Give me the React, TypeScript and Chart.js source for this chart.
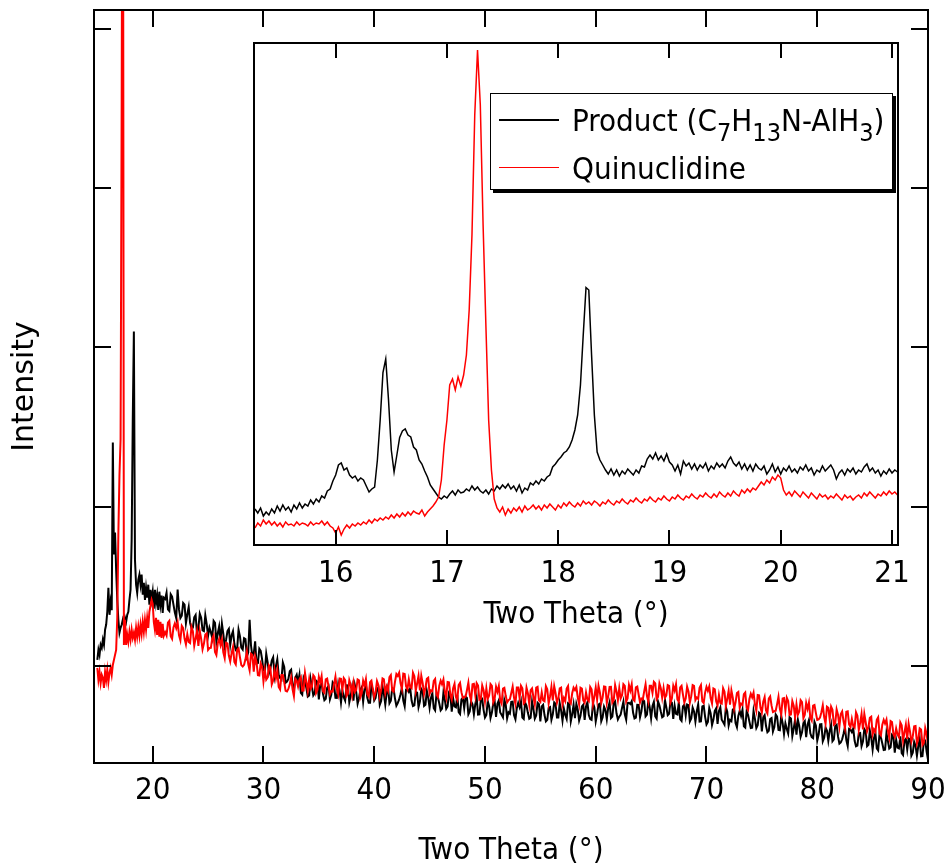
import React, { useEffect, useRef } from 'react';
import { Chart, registerables } from 'chart.js';
Chart.register(...registerables);

const W = 944;
const H = 866;
const FONT = "'DejaVu Sans Condensed', 'Liberation Sans Narrow', 'DejaVu Sans', sans-serif";
const FONT_WIDE = "'DejaVu Sans', Verdana, sans-serif";

// ---- tick labels ----
const MAIN_X_TICKS = [20, 30, 40, 50, 60, 70, 80, 90];
const MAIN_Y_TICKS = [1000, 2000, 3000, 4000, 5000];
const INSET_X_TICKS = [16, 17, 18, 19, 20, 21];

// ---- sampling grids (two theta, degrees) ----
const grid = (start: number, step: number, n: number) =>
  Array.from({ length: n }, (_, i) => +(start + i * step).toFixed(3));
const MAIN_X = [...grid(15.0, 0.1, 61), ...grid(21.25, 0.25, 276)];
const MAIN_X_MID = grid(21.125, 0.25, 276);
const INSET_X = grid(15.275, 0.025, 232);

// ---- main pattern: Product (C7H13N-AlH3) ----
const MAIN_PRODUCT = [
  1038, 1101, 1069, 1132, 1113, 1164, 1132, 1227, 1260, 1340,
  1491, 1321, 1400, 1350, 2403, 1700, 1837, 1604, 1415, 1290,
  1208, 1239, 1258, 1289, 1258, 1302, 1277, 1321, 1340, 1415,
  1478, 1793, 2547, 3101, 1667, 1510, 1459, 1541, 1573, 1510,
  1573, 1447, 1522, 1415, 1491, 1428, 1510, 1384, 1478, 1415,
  1466, 1359, 1478, 1396, 1447, 1352, 1466, 1384, 1441, 1333,
  1428,
  1460, 1345, 1435, 1335, 1480, 1300, 1395, 1268, 1370, 1238, 1305, 1202,
  1328, 1223, 1318, 1189, 1211, 1283, 1151, 1248, 1265, 1122, 1219, 1131,
  1218, 1100, 1228, 1115, 1174, 1058, 1290, 1060, 1154, 1017, 1094, 972,
  1077, 953, 1033, 939, 1041, 924, 1021, 894, 918, 976, 850, 944,
  945, 820, 906, 807, 919, 815, 907, 789, 892, 785, 862, 790,
  897, 800, 887, 770, 804, 878, 771, 865, 879, 762, 851, 775,
  880, 769, 879, 783, 856, 755, 868, 757, 871, 781, 855, 750,
  789, 863, 746, 855, 859, 748, 836, 740, 856, 748, 844, 736,
  828, 720, 803, 720, 833, 731, 830, 713, 745, 817, 698, 800,
  807, 695, 777, 695, 803, 695, 793, 676, 779, 673, 766, 680,
  784, 693, 787, 671, 700, 775, 664, 768, 777, 666, 749, 668,
  776, 669, 768, 651, 756, 651, 736, 661, 771, 676, 766, 656,
  691, 766, 651, 756, 761, 656, 746, 661, 771, 666, 766, 651,
  757, 653, 744, 665, 771, 682, 777, 663, 694, 775, 662, 768,
  779, 670, 756, 677, 788, 683, 784, 670, 774, 669, 753, 677,
  786, 690, 778, 667, 699, 772, 654, 756, 758, 651, 738, 650,
  758, 651, 749, 632, 735, 629, 717, 635, 739, 648, 741, 625,
  653, 732, 615, 718, 725, 612, 693, 610, 717, 609, 706, 588,
  691, 583, 666, 588, 695, 598, 685, 572, 604, 677, 559, 661,
  663, 555, 641, 553, 660, 552, 649, 531, 633, 526, 613, 530,
  632, 539, 630, 512, 539, 616, 497, 599, 607, 495, 577, 495,
  603, 495, 593, 475, 577, 469, 550, 472, 579, 481, 568, 455,
  487, 558, 440, 542, 544, 436, 523, 435, 542, 433, 530, 412,
];

// in-between readings (21.125 ... 89.875)
const MAIN_PRODUCT_MID = [
  1420, 1355, 1450, 1385, 1300, 1355, 1315, 1385, 1325, 1270, 1240, 1320,
  1238, 1303, 1218, 1263, 1240, 1175, 1270, 1205, 1148, 1203, 1163, 1233,
  1192, 1137, 1107, 1187, 1103, 1168, 1083, 1128, 1078, 1013, 1108, 1043,
  968, 1023, 983, 1053, 998, 943, 913, 993, 901, 966, 881, 926,
  896, 831, 926, 861, 814, 869, 829, 899, 879, 824, 794, 874,
  819, 884, 799, 844, 847, 782, 877, 812, 782, 837, 797, 867,
  854, 799, 769, 849, 799, 864, 779, 824, 830, 765, 860, 795,
  767, 822, 782, 852, 837, 782, 752, 832, 776, 841, 756, 801,
  799, 734, 829, 764, 731, 786, 746, 816, 795, 740, 710, 790,
  734, 799, 714, 759, 759, 694, 789, 724, 692, 747, 707, 777,
  762, 707, 677, 757, 709, 774, 689, 734, 740, 675, 770, 705,
  674, 729, 689, 759, 746, 691, 661, 741, 696, 761, 676, 721,
  731, 666, 761, 696, 671, 726, 686, 756, 746, 691, 661, 741,
  698, 763, 678, 723, 737, 672, 767, 702, 681, 736, 696, 766,
  760, 705, 675, 755, 714, 779, 694, 739, 748, 683, 778, 713,
  684, 739, 699, 769, 750, 695, 665, 745, 689, 754, 669, 714,
  715, 650, 745, 680, 648, 703, 663, 733, 717, 662, 632, 712,
  661, 726, 641, 686, 685, 620, 715, 650, 612, 667, 627, 697,
  677, 622, 592, 672, 616, 681, 596, 641, 640, 575, 670, 605,
  568, 623, 583, 653, 631, 576, 546, 626, 569, 634, 549, 594,
  592, 527, 622, 557, 519, 574, 534, 604, 584, 529, 499, 579,
  524, 589, 504, 549, 547, 482, 577, 512, 474, 529, 489, 559,
  537, 482, 452, 532, 474, 539, 454, 499, 497, 432, 527, 462,
];

// ---- main pattern: Quinuclidine ----
const MAIN_QUIN = [
  988, 912, 962, 893, 944, 925, 862, 962, 912, 975,
  899, 956, 988, 944, 1006, 1038, 1069, 1100, 1300, 1837,
  2201, 2422, 4560, 7705, 1132, 1289, 1132, 1195, 1151, 1214,
  1164, 1227, 1176, 1208, 1164, 1239, 1183, 1245, 1189, 1258,
  1201, 1277, 1214, 1289, 1227, 1302, 1239, 1340, 1378, 1415,
  1390, 1277, 1227, 1302, 1195, 1289, 1183, 1277, 1176, 1264,
  1189,
  1191, 1283, 1170, 1267, 1274, 1161, 1238, 1135, 1150, 1246, 1126, 1221,
  1220, 1104, 1197, 1101, 1113, 1191, 1068, 1170, 1167, 1049, 1141, 1028,
  1119, 1009, 1110, 1005, 1007, 1090, 972, 1069, 1060, 941, 1016, 902,
  914, 1002, 884, 976, 971, 852, 942, 843, 855, 928, 810, 907,
  915, 844, 956, 843, 855, 942, 829, 931, 936, 831, 921, 821,
  839, 932, 821, 919, 923, 811, 910, 818, 836, 915, 803, 907,
  917, 807, 907, 802, 905, 808, 921, 829, 845, 942, 838, 949,
  957, 855, 949, 852, 867, 957, 843, 938, 938, 823, 919, 824,
  841, 918, 805, 907, 914, 800, 897, 789, 887, 786, 894, 798,
  806, 895, 783, 887, 892, 787, 877, 777, 794, 886, 772, 869,
  873, 762, 862, 771, 791, 870, 760, 865, 875, 764, 864, 759,
  859, 759, 868, 773, 783, 873, 763, 868, 873, 768, 858, 758,
  778, 873, 763, 863, 868, 758, 858, 768, 788, 868, 758, 863,
  875, 767, 870, 767, 868, 769, 879, 785, 795, 885, 775, 880,
  885, 780, 870, 770, 790, 885, 775, 875, 900, 790, 890, 800,
  800, 880, 770, 875, 885, 775, 875, 770, 870, 770, 880, 785,
  792, 879, 766, 868, 871, 764, 853, 751, 768, 860, 747, 844,
  846, 732, 829, 736, 755, 833, 722, 825, 832, 718, 815, 707,
  804, 701, 808, 710, 718, 806, 695, 798, 800, 692, 779, 676,
  693, 785, 671, 768, 770, 657, 754, 661, 676, 752, 637, 737,
  744, 631, 727, 619, 714, 610, 715, 615, 622, 709, 596, 698,
  698, 589, 674, 569, 586, 677, 564, 661, 663, 550, 647, 554,
  569, 645, 530, 630, 637, 524, 620, 512, 608, 503, 609, 509,
];

const MAIN_QUIN_MID = [
  1212, 1272, 1187, 1242, 1237, 1192, 1252, 1172, 1198, 1143, 1218, 1173,
  1125, 1170, 1140, 1205, 1112, 1172, 1087, 1142, 1130, 1085, 1145, 1065,
  1080, 1025, 1100, 1055, 996, 1041, 1011, 1076, 964, 1024, 939, 994,
  973, 928, 988, 908, 922, 867, 942, 897, 839, 884, 854, 919,
  870, 930, 845, 900, 915, 870, 930, 850, 896, 841, 916, 871,
  841, 886, 856, 921, 850, 910, 825, 880, 894, 849, 909, 829,
  877, 822, 897, 852, 835, 880, 850, 915, 870, 930, 845, 900,
  937, 892, 952, 872, 915, 860, 935, 890, 846, 891, 861, 926,
  846, 906, 821, 876, 884, 839, 899, 819, 860, 805, 880, 835,
  804, 849, 819, 884, 817, 877, 792, 847, 859, 814, 874, 794,
  837, 782, 857, 812, 785, 830, 800, 865, 799, 859, 774, 829,
  848, 803, 863, 783, 833, 778, 853, 808, 783, 828, 798, 863,
  798, 858, 773, 828, 848, 803, 863, 783, 833, 778, 853, 808,
  788, 833, 803, 868, 809, 869, 784, 839, 860, 815, 875, 795,
  845, 790, 865, 820, 795, 840, 810, 875, 830, 890, 805, 860,
  860, 815, 875, 795, 845, 790, 865, 820, 795, 840, 810, 875,
  802, 862, 777, 832, 843, 798, 858, 778, 818, 763, 838, 793,
  756, 801, 771, 836, 762, 822, 737, 792, 802, 757, 817, 737,
  775, 720, 795, 750, 715, 760, 730, 795, 720, 780, 695, 750,
  758, 713, 773, 693, 730, 675, 750, 705, 664, 709, 679, 744,
  664, 724, 639, 694, 697, 652, 712, 632, 667, 612, 687, 642,
  601, 646, 616, 681, 601, 661, 576, 631, 638, 593, 653, 573,
  607, 552, 627, 582, 542, 587, 557, 622, 541, 601, 516, 571,
];

// ---- inset (15.3 - 21 deg) ----
const INSET_PRODUCT = [
  72, 64, 74, 58, 66, 60, 72, 64, 78, 68,
  80, 70, 76, 66, 80, 72, 84, 74, 82, 78,
  90, 82, 92, 86, 98, 94, 108, 112, 128, 140,
  160, 164, 150, 154, 140, 134, 138, 128, 134, 130,
  118, 106, 112, 116, 170, 250, 345, 372, 290, 190,
  146, 180, 215, 228, 232, 220, 216, 196, 190, 170,
  162, 148, 136, 120, 112, 104, 96, 92, 98, 94,
  102, 108, 100, 110, 104, 106, 112, 108, 118, 110,
  116, 108, 104, 110, 102, 112, 108, 118, 112, 120,
  114, 122, 112, 118, 108, 120, 104, 114, 110, 124,
  120, 128, 122, 132, 128, 136, 140, 156, 162, 170,
  176, 184, 188, 196, 210, 230, 260, 320, 420, 515,
  510, 380, 260, 186, 170, 160, 150, 142, 152, 140,
  150, 138, 148, 142, 152, 146, 140, 150, 144, 158,
  156, 172, 180, 172, 184, 170, 178, 168, 182, 166,
  160, 148, 160, 142, 168, 158, 164, 152, 162, 150,
  160, 154, 164, 148, 158, 152, 164, 156, 162, 154,
  168, 176, 164, 158, 166, 152, 162, 150, 160, 148,
  162, 154, 150, 158, 142, 150, 162, 146, 156, 142,
  154, 148, 158, 146, 152, 144, 156, 150, 160, 148,
  154, 140, 150, 146, 158, 148, 154, 160, 150, 132,
  144, 150, 140, 152, 146, 154, 142, 150, 146, 156,
  162, 148, 154, 144, 150, 138, 148, 142, 152, 144,
  150, 146,
];

const INSET_QUIN = [
  34, 44, 38, 50, 42, 48, 40, 46, 38, 44,
  36, 46, 40, 42, 38, 46, 40, 44, 42, 38,
  46, 40, 44, 42, 48, 40, 46, 38, 34, 24,
  36, 20, 32, 40, 34, 42, 38, 44, 40, 46,
  42, 50, 44, 52, 48, 54, 50, 56, 52, 60,
  54, 62, 56, 64, 58, 66, 60, 68, 64, 62,
  70, 58, 66, 72, 78, 86, 96, 130, 200, 250,
  320, 332, 310, 336, 318, 340, 380, 470, 620, 860,
  990, 880, 640, 440, 250, 150, 92, 74, 66, 76,
  60, 72, 64, 74, 68, 76, 66, 78, 70, 74,
  80, 72, 78, 70, 80, 74, 82, 76, 70, 80,
  74, 84, 78, 86, 80, 76, 84, 78, 88, 82,
  86, 80, 88, 84, 78, 86, 82, 90, 84, 80,
  88, 84, 92, 86, 82, 90, 86, 94, 88, 84,
  92, 88, 96, 90, 86, 94, 90, 98, 92, 88,
  96, 92, 100, 94, 90, 98, 94, 102, 96, 92,
  100, 96, 104, 98, 94, 102, 96, 106, 100, 96,
  104, 98, 108, 102, 98, 110, 104, 112, 106, 114,
  110, 118, 126, 120, 130, 124, 136, 130, 140, 134,
  110, 100, 106, 98, 108, 102, 96, 106, 100, 94,
  104, 98, 92, 102, 96, 100, 92, 98, 94, 102,
  96, 90, 100, 94, 98, 90, 96, 100, 94, 104,
  98, 106, 100, 94, 102, 98, 106, 100, 108, 102,
  106, 100,
];

const SERIES_NAMES = ['Product (C7H13N-AlH3)', 'Quinuclidine'];
const SERIES_COLORS = ['#000000', '#ff0000'];

const toPoints = (xs: number[], ys: number[]) => xs.map((x, i) => ({ x, y: ys[i] }));
const merged = (a: number[], b: number[]) =>
  [...toPoints(MAIN_X, a), ...toPoints(MAIN_X_MID, b)].sort((p, q) => p.x - q.x);

// frame with inward ticks
const framePlugin = {
  id: 'frameTicks',
  afterDraw(chart: any, _args: any, opts: any) {
    const { ctx, chartArea } = chart;
    const { left, right, top, bottom } = chartArea;
    const len = opts.len || 15;
    ctx.save();
    ctx.strokeStyle = '#000';
    ctx.lineWidth = 2;
    ctx.strokeRect(left, top, right - left, bottom - top);
    ctx.beginPath();
    const xs = chart.scales.x;
    xs.ticks.forEach((t: any) => {
      const px = Math.round(xs.getPixelForValue(t.value));
      ctx.moveTo(px, bottom);
      ctx.lineTo(px, bottom - len);
      ctx.moveTo(px, top);
      ctx.lineTo(px, top + len);
    });
    if (opts.yTicks) {
      const ys = chart.scales.y;
      ys.ticks.forEach((t: any) => {
        const py = Math.round(ys.getPixelForValue(t.value));
        ctx.moveTo(left, py);
        ctx.lineTo(left + len, py);
        ctx.moveTo(right, py);
        ctx.lineTo(right - len, py);
      });
    }
    ctx.stroke();
    ctx.restore();
  },
};

export default function App() {
  const mainRef = useRef<HTMLCanvasElement>(null);
  const insetRef = useRef<HTMLCanvasElement>(null);

  useEffect(() => {
    const main = new Chart(mainRef.current as HTMLCanvasElement, {
      type: 'line',
      data: {
        datasets: [
          {
            label: SERIES_NAMES[0],
            data: merged(MAIN_PRODUCT, MAIN_PRODUCT_MID),
            borderColor: SERIES_COLORS[0],
            borderWidth: 2,
            pointRadius: 0,
            tension: 0,
            order: 1,
          },
          {
            label: SERIES_NAMES[1],
            data: merged(MAIN_QUIN, MAIN_QUIN_MID),
            borderColor: SERIES_COLORS[1],
            borderWidth: 2,
            pointRadius: 0,
            tension: 0,
            order: 0,
          },
        ],
      },
      options: {
        animation: false,
        responsive: false,
        maintainAspectRatio: false,
        layout: { padding: { left: 0, top: 10, right: 16, bottom: 0 } },
        plugins: {
          legend: { display: false },
          tooltip: { enabled: false },
          frameTicks: { len: 17, yTicks: true },
        } as any,
        scales: {
          x: {
            type: 'linear',
            min: 14.7,
            max: 90,
            grid: { display: false, drawTicks: false },
            border: { display: false },
            afterBuildTicks: (axis: any) => {
              axis.ticks = MAIN_X_TICKS.map((v) => ({ value: v }));
            },
            afterFit: (scale: any) => {
              scale.height = 103;
              scale.paddingLeft = 0;
              scale.paddingRight = 0;
            },
            ticks: {
              autoSkip: false,
              maxRotation: 0,
              padding: 9,
              color: '#000',
              font: { family: FONT, size: 31 },
            },
            title: {
              display: true,
              text: 'Two Theta (°)',
              color: '#000',
              font: { family: FONT, size: 31, lineHeight: 1 },
              padding: { top: 0, bottom: 0 },
            },
          },
          y: {
            type: 'linear',
            min: 390,
            max: 5120,
            grid: { display: false, drawTicks: false },
            border: { display: false },
            afterBuildTicks: (axis: any) => {
              axis.ticks = MAIN_Y_TICKS.map((v) => ({ value: v }));
            },
            afterFit: (scale: any) => {
              scale.width = 94;
              scale.paddingTop = 0;
              scale.paddingBottom = 0;
            },
            ticks: { display: false },
            title: {
              display: true,
              text: 'Intensity',
              color: '#000',
              font: { family: FONT_WIDE, size: 30 },
              padding: { top: 7, bottom: 0 },
            },
          },
        },
      },
      plugins: [framePlugin],
    });

    const inset = new Chart(insetRef.current as HTMLCanvasElement, {
      type: 'line',
      data: {
        datasets: [
          {
            label: SERIES_NAMES[0],
            data: toPoints(INSET_X, INSET_PRODUCT),
            borderColor: SERIES_COLORS[0],
            borderWidth: 1.5,
            pointRadius: 0,
            tension: 0,
            order: 1,
          },
          {
            label: SERIES_NAMES[1],
            data: toPoints(INSET_X, INSET_QUIN),
            borderColor: SERIES_COLORS[1],
            borderWidth: 1.5,
            pointRadius: 0,
            tension: 0,
            order: 0,
          },
        ],
      },
      options: {
        animation: false,
        responsive: false,
        maintainAspectRatio: false,
        layout: { padding: { left: 254, top: 43, right: 46, bottom: 231 } },
        plugins: {
          legend: { display: false },
          tooltip: { enabled: false },
          frameTicks: { len: 15, yTicks: false },
        } as any,
        scales: {
          x: {
            type: 'linear',
            min: 15.266,
            max: 21.054,
            grid: { display: false, drawTicks: false },
            border: { display: false },
            afterBuildTicks: (axis: any) => {
              axis.ticks = INSET_X_TICKS.map((v) => ({ value: v }));
            },
            afterFit: (scale: any) => {
              scale.height = 90;
              scale.paddingLeft = 0;
              scale.paddingRight = 0;
            },
            ticks: {
              autoSkip: false,
              maxRotation: 0,
              padding: 10,
              color: '#000',
              font: { family: FONT, size: 31 },
            },
            title: {
              display: true,
              text: 'Two Theta (°)',
              color: '#000',
              font: { family: FONT, size: 31, lineHeight: 1 },
              padding: { top: 0, bottom: 5 },
            },
          },
          y: {
            type: 'linear',
            display: false,
            min: 0,
            max: 1004,
          },
        },
      },
      plugins: [framePlugin],
    });

    return () => {
      main.destroy();
      inset.destroy();
    };
  }, []);

  const sub = (t: string) => (
    <span style={{ fontSize: '0.81em', position: 'relative', top: '0.4em' }}>{t}</span>
  );

  const textStyle: React.CSSProperties = {
    position: 'absolute',
    left: 572,
    fontFamily: FONT,
    fontStretch: 'condensed',
    fontSize: 31,
    lineHeight: '36px',
    color: '#000',
    whiteSpace: 'nowrap',
  };

  return (
    <div style={{ position: 'absolute', left: 0, top: 0, width: W, height: H, background: '#fff', overflow: 'hidden' }}>
      <canvas ref={mainRef} width={W} height={H} style={{ position: 'absolute', left: 0, top: 0, width: W, height: H }} />
      <canvas ref={insetRef} width={W} height={H} style={{ position: 'absolute', left: 0, top: 0, width: W, height: H }} />
      <div
        style={{
          position: 'absolute',
          left: 490,
          top: 93,
          width: 403,
          height: 97,
          boxSizing: 'border-box',
          border: '1.5px solid #000',
          boxShadow: '3px 3px 0 #000',
          background: '#fff',
        }}
      />
      <div style={{ position: 'absolute', left: 499, top: 119, width: 60, height: 1.5, background: SERIES_COLORS[0] }} />
      <div style={{ position: 'absolute', left: 499, top: 166.5, width: 60, height: 1.5, background: SERIES_COLORS[1] }} />
      <div style={{ ...textStyle, top: 102 }}>
        Product (C{sub('7')}H{sub('13')}N-AlH{sub('3')})
      </div>
      <div style={{ ...textStyle, top: 150 }}>{SERIES_NAMES[1]}</div>
    </div>
  );
}
